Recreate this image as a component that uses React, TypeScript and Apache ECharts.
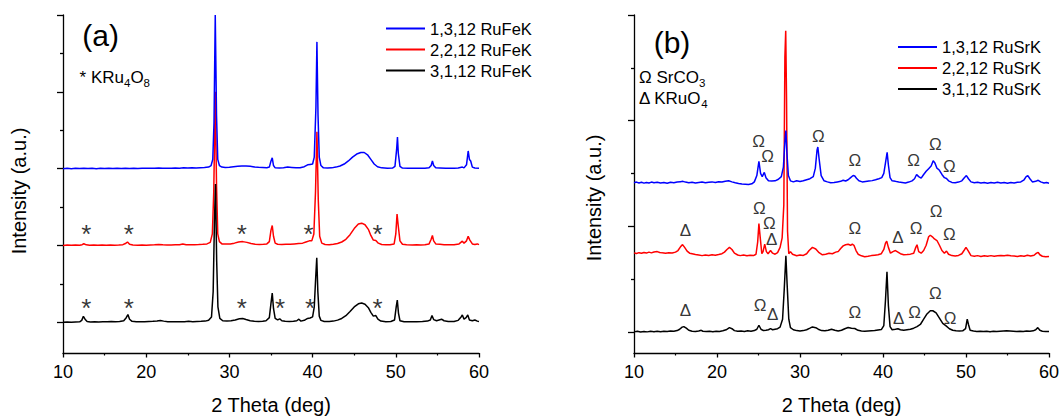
import React, { useEffect, useRef } from 'react';
import * as echarts from 'echarts';

const FONT = '"Liberation Sans", Arial, Helvetica, sans-serif';
const INK = '#000000';

// ---------- Panel (a): RuFeK (relative intensities, each trace offset) ----------
const namesA = ['1,3,12 RuFeK', '2,2,12 RuFeK', '3,1,12 RuFeK'];
const offsetsA = [2, 1, 0];

const a_blue: number[][] = [
  [10, 0], [10.5, 0.004], [11, 0], [11.5, 0.005], [12, 0.002], [12.5, 0.006], [13, 0.002], [13.5, 0.004],
  [14, 0], [14.5, 0.005], [15, 0.003], [15.5, 0.006], [16, 0.002], [16.5, 0.004], [17, 0.003], [17.5, 0.005],
  [18, 0.003], [18.5, 0.004], [19, 0.002], [19.5, 0.005], [20, 0.004], [20.5, 0.006], [21, 0.004], [21.5, 0.007],
  [22, 0.005], [22.5, 0.006], [23, 0.004], [23.5, 0.007], [24, 0.006], [24.5, 0.01], [25, 0.008], [25.5, 0.01],
  [26, 0.009], [26.5, 0.012], [27, 0.015], [27.5, 0.02], [27.8, 0.04], [28.0, 0.12], [28.15, 0.6], [28.3, 2.0],
  [28.45, 0.7], [28.6, 0.12], [28.8, 0.04], [29.1, 0.02], [29.5, 0.015], [30, 0.018], [30.5, 0.025], [31, 0.03],
  [31.5, 0.035], [32, 0.035], [32.5, 0.03], [33, 0.022], [33.5, 0.018], [34, 0.015], [34.5, 0.012], [34.8, 0.02],
  [35.0, 0.1], [35.15, 0.14], [35.3, 0.04], [35.5, 0.01], [36, 0.008], [36.5, 0.012], [37, 0.02], [37.5, 0.015],
  [38, 0.01], [38.5, 0.012], [39, 0.025], [39.4, 0.05], [39.7, 0.055], [40.0, 0.06], [40.2, 0.15], [40.4, 0.8],
  [40.52, 1.65], [40.65, 0.7], [40.8, 0.15], [41.0, 0.04], [41.3, 0.01], [41.8, 0.008], [42.3, 0.01], [42.8, 0.02],
  [43.3, 0.035], [43.8, 0.06], [44.3, 0.1], [44.8, 0.15], [45.3, 0.19], [45.8, 0.21], [46.2, 0.21], [46.6, 0.18],
  [47.0, 0.12], [47.4, 0.06], [47.8, 0.025], [48.3, 0.01], [49, 0.005], [49.6, 0.008], [49.9, 0.03], [50.1, 0.25],
  [50.2, 0.41], [50.3, 0.2], [50.5, 0.03], [50.8, 0.008], [51.5, 0.004], [52, 0.006], [52.5, 0.004], [53, 0.005],
  [53.5, 0.006], [54, 0.01], [54.25, 0.04], [54.4, 0.1], [54.55, 0.04], [54.8, 0.01], [55.3, 0.008], [56, 0.005],
  [56.5, 0.004], [57, 0.006], [57.5, 0.008], [58, 0.02], [58.2, 0.01], [58.5, 0.05], [58.7, 0.23], [58.85, 0.12],
  [59.0, 0.1], [59.2, 0.02], [59.5, 0.008], [60, 0.005],
];

const a_red: number[][] = [
  [10, 0], [10.5, 0.005], [11, 0.002], [11.5, 0.006], [12, 0.003], [12.3, 0.01], [12.5, 0.022], [12.8, 0.008],
  [13.2, 0.003], [13.7, 0.006], [14.2, 0.002], [14.7, 0.005], [15.2, 0.003], [15.7, 0.006], [16.2, 0.004], [16.7, 0.006],
  [17.2, 0.01], [17.5, 0.025], [17.75, 0.045], [18, 0.015], [18.4, 0.006], [19, 0.004], [19.5, 0.006], [20, 0.004],
  [20.5, 0.007], [21, 0.008], [21.5, 0.012], [22, 0.008], [22.5, 0.006], [23, 0.006], [23.5, 0.008], [24, 0.01],
  [24.4, 0.018], [24.8, 0.01], [25.3, 0.008], [25.8, 0.01], [26.3, 0.012], [26.8, 0.015], [27.3, 0.02], [27.7, 0.04],
  [27.95, 0.15], [28.12, 0.7], [28.3, 2.0], [28.45, 0.8], [28.6, 0.15], [28.8, 0.05], [29.1, 0.02], [29.6, 0.018],
  [30.1, 0.02], [30.6, 0.03], [31.1, 0.045], [31.6, 0.05], [32.1, 0.04], [32.6, 0.025], [33.1, 0.015], [33.6, 0.012],
  [34.1, 0.015], [34.5, 0.02], [34.8, 0.05], [35.0, 0.2], [35.15, 0.26], [35.3, 0.12], [35.5, 0.03], [35.8, 0.015],
  [36.3, 0.012], [36.8, 0.015], [37.3, 0.015], [37.8, 0.02], [38.3, 0.025], [38.8, 0.03], [39.2, 0.045], [39.6, 0.06],
  [39.9, 0.06], [40.15, 0.15], [40.35, 0.7], [40.52, 1.48], [40.68, 0.6], [40.85, 0.12], [41.1, 0.03], [41.5, 0.012],
  [42, 0.01], [42.5, 0.015], [43, 0.025], [43.5, 0.045], [44, 0.08], [44.5, 0.14], [45, 0.22], [45.5, 0.28],
  [45.9, 0.29], [46.3, 0.27], [46.7, 0.21], [47.0, 0.13], [47.3, 0.07], [47.6, 0.065], [47.9, 0.03], [48.3, 0.012],
  [48.8, 0.008], [49.3, 0.008], [49.8, 0.02], [50.0, 0.15], [50.15, 0.41], [50.3, 0.25], [50.5, 0.06], [50.8, 0.015],
  [51.3, 0.008], [52, 0.006], [52.5, 0.008], [53, 0.006], [53.5, 0.01], [54, 0.02], [54.25, 0.08], [54.4, 0.13],
  [54.55, 0.06], [54.8, 0.02], [55.3, 0.015], [55.8, 0.01], [56.3, 0.008], [57, 0.01], [57.6, 0.02], [58.0, 0.056],
  [58.2, 0.03], [58.5, 0.06], [58.7, 0.12], [58.9, 0.07], [59.2, 0.02], [59.5, 0.012], [59.8, 0.02], [60, 0.01],
];

const a_black: number[][] = [
  [10, 0], [10.5, 0.005], [11, 0.001], [11.5, 0.005], [12, 0.006], [12.25, 0.025], [12.45, 0.078], [12.65, 0.04],
  [12.9, 0.01], [13.3, 0.004], [13.8, 0.006], [14.3, 0.003], [14.8, 0.006], [15.3, 0.008], [15.8, 0.01], [16.3, 0.008],
  [16.8, 0.01], [17.3, 0.02], [17.6, 0.06], [17.8, 0.1], [18.0, 0.04], [18.3, 0.012], [18.8, 0.006], [19.3, 0.008],
  [19.8, 0.006], [20.3, 0.01], [20.8, 0.012], [21.3, 0.018], [21.7, 0.024], [22.1, 0.015], [22.6, 0.008], [23.1, 0.006],
  [23.6, 0.008], [24.1, 0.006], [24.6, 0.008], [25.1, 0.012], [25.6, 0.008], [26.1, 0.01], [26.6, 0.012], [27.1, 0.015],
  [27.5, 0.025], [27.85, 0.07], [28.05, 0.4], [28.2, 1.3], [28.33, 1.8], [28.47, 0.8], [28.62, 0.2], [28.85, 0.05],
  [29.2, 0.02], [29.7, 0.015], [30.2, 0.02], [30.7, 0.03], [31.2, 0.045], [31.6, 0.048], [32.0, 0.035], [32.5, 0.02],
  [33, 0.012], [33.5, 0.01], [34, 0.012], [34.4, 0.02], [34.8, 0.06], [35.0, 0.25], [35.15, 0.38], [35.3, 0.18],
  [35.5, 0.05], [35.8, 0.03], [36.05, 0.045], [36.3, 0.02], [36.7, 0.012], [37.2, 0.01], [37.7, 0.014], [38.1, 0.02],
  [38.35, 0.04], [38.6, 0.015], [39.0, 0.025], [39.4, 0.05], [39.7, 0.055], [40.0, 0.07], [40.2, 0.2], [40.38, 0.6],
  [40.5, 0.84], [40.63, 0.4], [40.8, 0.08], [41.0, 0.025], [41.4, 0.01], [42, 0.01], [42.5, 0.015], [43, 0.028],
  [43.5, 0.05], [44, 0.085], [44.5, 0.14], [45, 0.2], [45.5, 0.24], [45.9, 0.25], [46.3, 0.235], [46.7, 0.19],
  [47.0, 0.13], [47.3, 0.08], [47.6, 0.087], [47.85, 0.04], [48.2, 0.015], [48.8, 0.008], [49.4, 0.01], [49.85, 0.03],
  [50.05, 0.2], [50.18, 0.29], [50.32, 0.12], [50.5, 0.02], [51, 0.008], [51.8, 0.006], [52.5, 0.008], [53.2, 0.01],
  [53.8, 0.015], [54.15, 0.03], [54.35, 0.087], [54.55, 0.035], [54.9, 0.02], [55.2, 0.03], [55.5, 0.04], [55.8, 0.02],
  [56.3, 0.01], [57, 0.01], [57.5, 0.025], [57.85, 0.07], [58.0, 0.095], [58.2, 0.04], [58.45, 0.06], [58.65, 0.095],
  [58.85, 0.03], [59.2, 0.02], [59.5, 0.03], [59.8, 0.015], [60, 0.01],
];

// KRu4O8 reflections marked with "*": [2theta, height on the a-axis]
const a_stars: number[][] = [
  [12.8, 1.225], [17.9, 1.225], [31.5, 1.225], [39.5, 1.225], [47.8, 1.225],
  [12.8, 0.26], [17.9, 0.26], [31.5, 0.26], [36.1, 0.26], [39.7, 0.26], [47.8, 0.26],
];

// ---------- Panel (b): RuSrK (absolute positions on the b-axis) ----------
const namesB = ['1,3,12 RuSrK', '2,2,12 RuSrK', '3,1,12 RuSrK'];

const b_blue: number[][] = [
  [10, 1.412], [10.3, 1.418], [10.6, 1.41], [10.9, 1.416], [11.2, 1.408], [11.5, 1.415], [11.8, 1.41], [12.1, 1.418],
  [12.4, 1.412], [12.8, 1.416], [13.2, 1.41], [13.6, 1.414], [14.0, 1.408], [14.4, 1.416], [14.8, 1.412], [15.2, 1.418],
  [15.6, 1.422], [15.9, 1.425], [16.2, 1.418], [16.6, 1.412], [17.0, 1.416], [17.4, 1.41], [17.8, 1.414], [18.2, 1.418],
  [18.6, 1.412], [19.0, 1.416], [19.4, 1.42], [19.8, 1.414], [20.2, 1.422], [20.6, 1.418], [21.0, 1.426], [21.4, 1.43],
  [21.8, 1.42], [22.2, 1.412], [22.6, 1.405], [23.0, 1.4], [23.4, 1.398], [23.8, 1.395], [24.2, 1.402], [24.5, 1.42],
  [24.8, 1.48], [25.05, 1.614], [25.25, 1.5], [25.45, 1.47], [25.7, 1.51], [25.9, 1.46], [26.2, 1.43], [26.6, 1.428],
  [27.0, 1.43], [27.4, 1.445], [27.75, 1.47], [28.0, 1.56], [28.18, 1.8], [28.3, 1.907], [28.42, 1.7], [28.6, 1.48],
  [28.85, 1.43], [29.2, 1.42], [29.6, 1.43], [30.0, 1.424], [30.4, 1.43], [30.8, 1.44], [31.2, 1.45], [31.6, 1.47],
  [31.85, 1.55], [32.05, 1.72], [32.15, 1.75], [32.3, 1.64], [32.55, 1.48], [32.9, 1.43], [33.3, 1.42], [33.7, 1.412],
  [34.1, 1.415], [34.5, 1.42], [34.9, 1.425], [35.2, 1.435], [35.5, 1.428], [35.8, 1.44], [36.1, 1.46], [36.4, 1.48],
  [36.6, 1.475], [36.8, 1.455], [37.1, 1.43], [37.5, 1.42], [37.9, 1.424], [38.3, 1.428], [38.7, 1.432], [39.1, 1.44],
  [39.5, 1.45], [39.85, 1.46], [40.1, 1.5], [40.3, 1.6], [40.5, 1.7], [40.65, 1.58], [40.85, 1.46], [41.1, 1.43],
  [41.5, 1.425], [41.9, 1.418], [42.3, 1.414], [42.7, 1.41], [43.1, 1.418], [43.5, 1.43], [43.8, 1.45], [44.05, 1.49],
  [44.3, 1.47], [44.6, 1.455], [44.9, 1.49], [45.2, 1.52], [45.5, 1.545], [45.8, 1.57], [46.05, 1.62], [46.25, 1.6],
  [46.5, 1.55], [46.8, 1.53], [47.1, 1.49], [47.4, 1.46], [47.65, 1.452], [47.9, 1.43], [48.3, 1.415], [48.7, 1.412],
  [49.1, 1.418], [49.5, 1.43], [49.8, 1.46], [50.05, 1.48], [50.3, 1.45], [50.6, 1.42], [51.0, 1.412], [51.4, 1.416],
  [51.8, 1.41], [52.2, 1.414], [52.6, 1.408], [53.0, 1.414], [53.4, 1.41], [53.8, 1.416], [54.2, 1.41], [54.6, 1.414],
  [55.0, 1.408], [55.4, 1.414], [55.8, 1.41], [56.2, 1.416], [56.6, 1.42], [57.0, 1.44], [57.25, 1.47], [57.45, 1.48],
  [57.7, 1.45], [58.0, 1.42], [58.4, 1.425], [58.7, 1.435], [59.0, 1.42], [59.4, 1.41], [59.7, 1.414], [60, 1.408],
];

const b_red: number[][] = [
  [10, 0.748], [10.3, 0.742], [10.6, 0.75], [10.9, 0.744], [11.2, 0.752], [11.5, 0.746], [11.8, 0.755], [12.1, 0.748],
  [12.4, 0.756], [12.8, 0.76], [13.1, 0.752], [13.4, 0.748], [13.8, 0.744], [14.2, 0.75], [14.6, 0.746], [15.0, 0.755],
  [15.3, 0.77], [15.6, 0.805], [15.85, 0.826], [16.1, 0.8], [16.4, 0.765], [16.7, 0.745], [17.0, 0.74], [17.4, 0.732],
  [17.8, 0.728], [18.2, 0.722], [18.6, 0.728], [19.0, 0.724], [19.4, 0.73], [19.8, 0.726], [20.2, 0.732], [20.6, 0.74],
  [20.9, 0.755], [21.2, 0.78], [21.5, 0.8], [21.8, 0.78], [22.1, 0.745], [22.5, 0.728], [22.8, 0.722], [23.2, 0.728],
  [23.6, 0.72], [24.0, 0.726], [24.4, 0.722], [24.7, 0.735], [24.9, 0.85], [25.05, 1.025], [25.2, 0.9], [25.4, 0.74],
  [25.55, 0.76], [25.75, 0.83], [25.95, 0.76], [26.15, 0.74], [26.45, 0.77], [26.7, 0.745], [27.0, 0.735], [27.3, 0.75],
  [27.6, 0.8], [27.85, 0.89], [28.05, 1.2], [28.18, 2.6], [28.28, 2.85], [28.38, 2.2], [28.5, 0.95], [28.65, 0.74],
  [28.85, 0.76], [29.1, 0.735], [29.6, 0.72], [30.0, 0.728], [30.4, 0.724], [30.8, 0.74], [31.1, 0.77], [31.5, 0.8],
  [31.9, 0.785], [32.3, 0.75], [32.7, 0.73], [33.1, 0.735], [33.5, 0.745], [33.9, 0.74], [34.3, 0.755], [34.6, 0.76],
  [34.9, 0.79], [35.2, 0.814], [35.5, 0.825], [35.8, 0.83], [36.1, 0.82], [36.3, 0.83], [36.5, 0.82], [36.75, 0.77],
  [37.0, 0.735], [37.4, 0.72], [37.8, 0.712], [38.2, 0.716], [38.6, 0.722], [39.0, 0.726], [39.4, 0.73], [39.8, 0.74],
  [40.1, 0.78], [40.3, 0.84], [40.45, 0.858], [40.65, 0.8], [40.9, 0.745], [41.2, 0.76], [41.5, 0.77], [41.8, 0.755],
  [42.1, 0.74], [42.5, 0.73], [42.9, 0.732], [43.3, 0.736], [43.7, 0.745], [43.95, 0.8], [44.1, 0.825], [44.3, 0.76],
  [44.6, 0.745], [44.9, 0.77], [45.2, 0.82], [45.5, 0.9], [45.7, 0.915], [45.95, 0.9], [46.2, 0.88], [46.5, 0.865],
  [46.8, 0.82], [47.1, 0.77], [47.4, 0.745], [47.65, 0.765], [47.9, 0.735], [48.3, 0.722], [48.7, 0.718], [49.1, 0.724],
  [49.5, 0.74], [49.8, 0.775], [50.0, 0.8], [50.25, 0.77], [50.6, 0.722], [51.0, 0.716], [51.4, 0.722], [51.8, 0.714],
  [52.2, 0.72], [52.6, 0.716], [53.0, 0.722], [53.4, 0.715], [53.8, 0.72], [54.2, 0.724], [54.6, 0.72], [55.0, 0.726],
  [55.4, 0.72], [55.8, 0.718], [56.2, 0.714], [56.6, 0.72], [57.0, 0.716], [57.4, 0.725], [57.8, 0.718], [58.2, 0.725],
  [58.5, 0.745], [58.7, 0.752], [58.9, 0.73], [59.2, 0.716], [59.6, 0.712], [60, 0.714],
];

const b_black: number[][] = [
  [10, 0.0], [10.4, 0.006], [10.8, -0.002], [11.2, 0.004], [11.6, 0.0], [12, 0.005], [12.4, 0.002], [12.8, 0.006],
  [13.2, 0.001], [13.6, 0.005], [14, 0.003], [14.4, 0.008], [14.8, 0.006], [15.2, 0.012], [15.5, 0.025], [15.8, 0.045],
  [16.0, 0.05], [16.3, 0.035], [16.6, 0.015], [17, 0.006], [17.4, 0.004], [17.8, 0.008], [18.1, 0.015], [18.3, 0.006],
  [18.7, 0.003], [19.1, 0.006], [19.5, 0.002], [19.9, 0.007], [20.3, 0.004], [20.7, 0.01], [21.1, 0.02], [21.5, 0.04],
  [21.8, 0.03], [22.1, 0.012], [22.5, 0.005], [22.9, 0.008], [23.3, 0.004], [23.7, 0.01], [24.1, 0.006], [24.5, 0.012],
  [24.8, 0.025], [25.05, 0.063], [25.3, 0.025], [25.6, 0.012], [25.9, 0.015], [26.2, 0.02], [26.45, 0.03], [26.7, 0.02],
  [27.0, 0.025], [27.3, 0.03], [27.6, 0.045], [27.9, 0.12], [28.1, 0.4], [28.3, 0.72], [28.45, 0.45], [28.65, 0.12],
  [28.85, 0.04], [29.2, 0.02], [29.6, 0.012], [30, 0.008], [30.4, 0.012], [30.8, 0.02], [31.2, 0.035], [31.5, 0.047],
  [31.9, 0.04], [32.2, 0.025], [32.6, 0.012], [33, 0.01], [33.4, 0.015], [33.8, 0.025], [34.2, 0.015], [34.6, 0.008],
  [35.0, 0.015], [35.4, 0.03], [35.8, 0.042], [36.2, 0.035], [36.6, 0.032], [37.0, 0.015], [37.4, 0.008], [37.8, 0.006],
  [38.2, 0.008], [38.6, 0.01], [39.0, 0.012], [39.4, 0.018], [39.8, 0.022], [40.1, 0.06], [40.3, 0.3], [40.48, 0.57],
  [40.65, 0.25], [40.85, 0.05], [41.1, 0.02], [41.5, 0.025], [41.8, 0.03], [42.1, 0.02], [42.5, 0.015], [42.9, 0.02],
  [43.3, 0.025], [43.7, 0.035], [44.1, 0.05], [44.5, 0.07], [44.9, 0.12], [45.3, 0.17], [45.7, 0.2], [46.0, 0.2],
  [46.4, 0.18], [46.8, 0.13], [47.2, 0.08], [47.6, 0.057], [48.0, 0.03], [48.4, 0.015], [48.8, 0.01], [49.2, 0.008],
  [49.6, 0.01], [49.95, 0.03], [50.15, 0.12], [50.3, 0.07], [50.5, 0.015], [50.9, 0.008], [51.3, 0.004], [51.7, 0.006],
  [52.1, 0.003], [52.5, 0.006], [52.9, 0.002], [53.3, 0.006], [53.7, 0.004], [54.1, 0.006], [54.5, 0.008], [54.9, 0.01],
  [55.3, 0.008], [55.7, 0.006], [56.1, 0.004], [56.5, 0.006], [56.9, 0.004], [57.3, 0.008], [57.7, 0.006], [58.1, 0.01],
  [58.4, 0.02], [58.65, 0.04], [58.9, 0.015], [59.2, 0.006], [59.6, 0.004], [60, 0.003],
];

// Phase markers: [2theta, height, symbol]
const b_marks: [number, number, string][] = [
  [25.0, 1.80, 'Ω'], [26.1, 1.66, 'Ω'], [32.2, 1.85, 'Ω'], [36.6, 1.62, 'Ω'], [43.7, 1.62, 'Ω'], [46.3, 1.77, 'Ω'], [48.0, 1.57, 'Ω'],
  [16.2, 0.96, 'Δ'], [25.1, 1.17, 'Ω'], [26.3, 1.03, 'Ω'], [26.6, 0.87, 'Δ'], [36.6, 0.98, 'Ω'], [41.8, 0.89, 'Δ'],
  [44.0, 0.98, 'Ω'], [46.4, 1.14, 'Ω'], [48.0, 0.92, 'Ω'],
  [16.2, 0.2, 'Δ'], [25.2, 0.25, 'Ω'], [26.7, 0.16, 'Δ'], [36.6, 0.18, 'Ω'], [41.9, 0.13, 'Δ'], [43.8, 0.18, 'Ω'],
  [46.3, 0.36, 'Ω'], [48.1, 0.13, 'Ω'],
];

// Axis ticks
const xMin = 10;
const xMax = 60;
const xStep = 10;
const yRangeA = [-0.4, 4];
const yMajorA = [0, 1, 2, 3, 4];
const yMinorA = [0.5, 1.5, 2.5, 3.5];
const yRangeB = [-0.2, 3];
const yMajorB = [0, 1, 2, 3];
const yMinorB = [0.5, 1.5, 2.5];

const COLORS = ['#0000ff', '#ff0000', '#000000'];

function makeX(gridIndex: number) {
  return {
    type: 'value',
    gridIndex,
    min: xMin,
    max: xMax,
    interval: xStep,
    axisLine: { show: true, onZero: false, lineStyle: { color: '#000', width: 1.3 } },
    axisTick: { show: true, inside: false, length: 4.5, lineStyle: { color: '#000', width: 1.3 } },
    minorTick: { show: true, splitNumber: 2, length: 2.5, lineStyle: { color: '#000', width: 1.2 } },
    splitLine: { show: false },
    minorSplitLine: { show: false },
    axisLabel: { fontSize: 18, color: INK, margin: 10, fontFamily: FONT },
    name: '2 Theta (deg)',
    nameLocation: 'middle',
    nameGap: 42,
    nameTextStyle: { fontSize: 20, color: INK, fontFamily: FONT },
  };
}

function makeY(gridIndex: number, range: number[], ticks: number[], len: number, line: boolean) {
  return {
    type: 'value',
    gridIndex,
    position: 'left',
    offset: 0,
    min: range[0],
    max: range[1],
    axisLine: { show: line, onZero: false, lineStyle: { color: '#000', width: 1.3 } },
    axisTick: { show: true, inside: false, length: len, customValues: ticks, lineStyle: { color: '#000', width: 1.3 } },
    axisLabel: { show: false },
    splitLine: { show: false },
  };
}

function lineSeries(name: string, data: number[][], color: string, xi: number, yi: number, offset: number) {
  return {
    name,
    type: 'line',
    xAxisIndex: xi,
    yAxisIndex: yi,
    data: data.map((p) => [p[0], p[1] + offset]),
    symbol: 'none',
    showSymbol: false,
    smooth: false,
    color,
    lineStyle: { color, width: 1.5 },
    emphasis: { disabled: true },
    silent: true,
  };
}

function richText(x: number, y: number, main1: string, sub1: string, main2: string, sub2: string) {
  return {
    type: 'text',
    x,
    y,
    silent: true,
    style: {
      text: `{n|${main1}}{s|${sub1}}{n|${main2}}{s|${sub2}}`,
      fill: INK,
      align: 'left',
      verticalAlign: 'middle',
      fontFamily: FONT,
      rich: {
        n: { fontSize: 17, lineHeight: 23, fontFamily: FONT, fill: INK, verticalAlign: 'middle' },
        s: { fontSize: 11.5, lineHeight: 11, fontFamily: FONT, fill: INK, verticalAlign: 'bottom' },
      },
    },
  };
}

function makeLegend(names: string[], left: number, top: number) {
  return {
    data: names,
    orient: 'vertical',
    left,
    top,
    padding: 0,
    icon: 'rect',
    itemWidth: 39,
    itemHeight: 2,
    itemGap: 4,
    textStyle: { fontSize: 16.5, color: INK, fontFamily: FONT },
    selectedMode: false,
  };
}

export default function App() {
  const ref = useRef<HTMLDivElement>(null);

  useEffect(() => {
    if (!ref.current) return;
    const chart = echarts.init(ref.current, undefined, { renderer: 'svg' });

    const option = {
      animation: false,
      backgroundColor: '#ffffff',
      textStyle: { fontFamily: FONT },
      grid: [
        { left: 63, top: 15, width: 416, height: 339 },
        { left: 634, top: 15, width: 416, height: 339 },
      ],
      xAxis: [makeX(0), makeX(1)],
      yAxis: [
        makeY(0, yRangeA, yMajorA, 6, true),
        makeY(0, yRangeA, yMinorA, 3, false),
        makeY(1, yRangeB, yMajorB, 6, true),
        makeY(1, yRangeB, yMinorB, 3, false),
      ],
      legend: [makeLegend(namesA, 386, 20), makeLegend(namesB, 898, 38.5)],
      series: [
        lineSeries(namesA[1], a_red, COLORS[1], 0, 0, offsetsA[1]),
        lineSeries(namesA[2], a_black, COLORS[2], 0, 0, offsetsA[2]),
        lineSeries(namesA[0], a_blue, COLORS[0], 0, 0, offsetsA[0]),
        lineSeries(namesB[1], b_red, COLORS[1], 1, 2, 0),
        lineSeries(namesB[2], b_black, COLORS[2], 1, 2, 0),
        lineSeries(namesB[0], b_blue, COLORS[0], 1, 2, 0),
        {
          type: 'scatter',
          xAxisIndex: 0,
          yAxisIndex: 0,
          data: a_stars.map((p) => [p[0], p[1]]),
          symbolSize: 1,
          itemStyle: { color: 'rgba(0,0,0,0)' },
          silent: true,
          label: {
            show: true,
            position: 'inside',
            formatter: '*',
            fontSize: 26,
            color: INK,
            fontFamily: FONT,
            offset: [0, 6],
          },
        },
        {
          type: 'scatter',
          xAxisIndex: 1,
          yAxisIndex: 2,
          data: b_marks.map((m) => ({ value: [m[0], m[1]], name: m[2] })),
          symbolSize: 1,
          itemStyle: { color: 'rgba(0,0,0,0)' },
          silent: true,
          label: {
            show: true,
            position: 'inside',
            formatter: '{b}',
            fontSize: 17,
            color: INK,
            fontFamily: FONT,
          },
        },
      ],
      graphic: [
        {
          type: 'text', x: 18.6, y: 191, rotation: Math.PI / 2, silent: true,
          style: { text: 'Intensity (a.u.)', fontSize: 20, fontFamily: FONT, fill: INK, align: 'center', verticalAlign: 'middle' },
        },
        {
          type: 'text', x: 593.6, y: 198, rotation: Math.PI / 2, silent: true,
          style: { text: 'Intensity (a.u.)', fontSize: 20, fontFamily: FONT, fill: INK, align: 'center', verticalAlign: 'middle' },
        },
        {
          type: 'text', x: 100.7, y: 35, silent: true,
          style: { text: '(a)', fontSize: 30, fontFamily: FONT, fill: INK, align: 'center', verticalAlign: 'middle' },
        },
        {
          type: 'text', x: 672, y: 42.5, silent: true,
          style: { text: '(b)', fontSize: 30, fontFamily: FONT, fill: INK, align: 'center', verticalAlign: 'middle' },
        },
        richText(79.6, 77.5, '* KRu', '4', 'O', '8'),
        richText(639, 77.5, 'Ω SrCO', '3', '', ''),
        richText(639, 98.8, 'Δ KRuO', '4', '', ''),
      ],
    };

    chart.setOption(option as any);
    return () => chart.dispose();
  }, []);

  return (
    <div
      ref={ref}
      style={{ position: 'absolute', left: 0, top: 0, width: 1062, height: 420, background: '#fff' }}
    />
  );
}
